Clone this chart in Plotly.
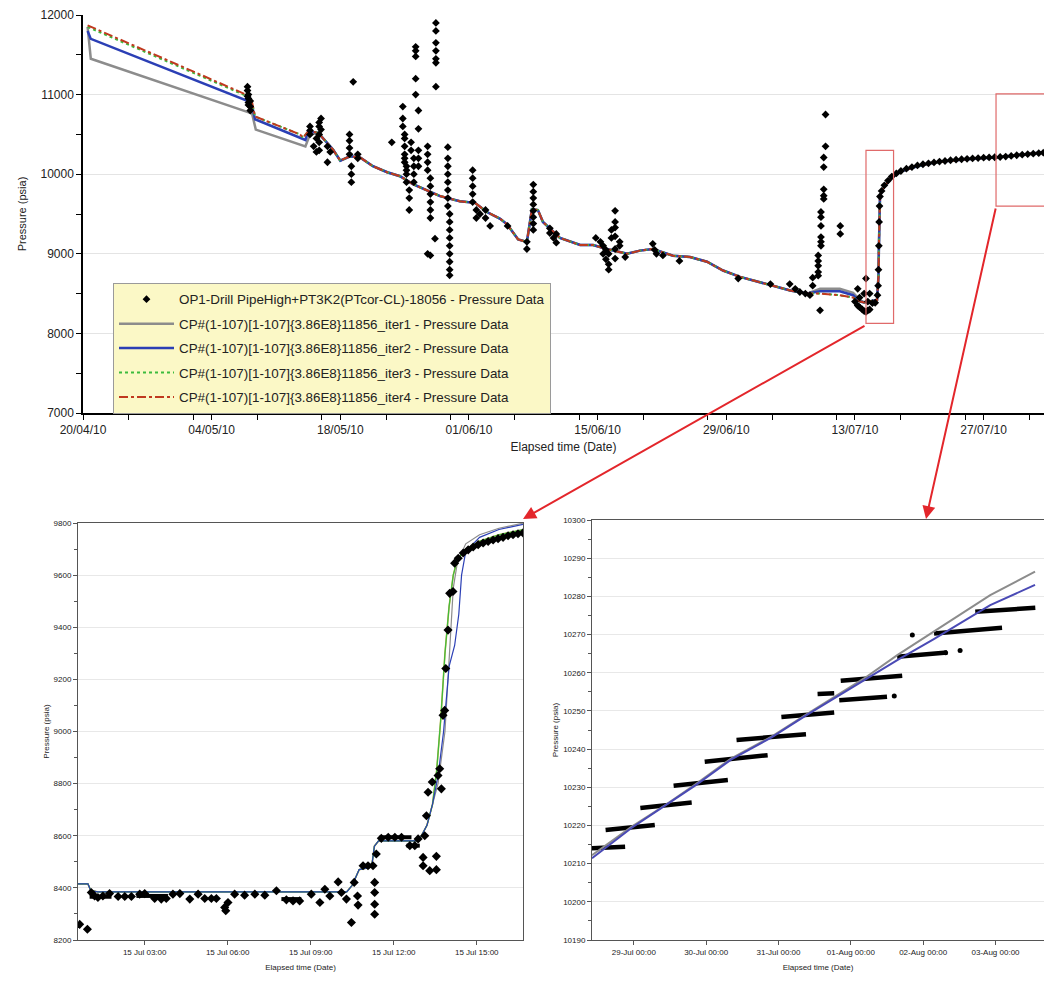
import pandas as pd
import plotly.graph_objects as go

# ---------------- DATA ----------------
# Top chart: elapsed days since 2010-04-20
base_days = [0.5, 17.95, 18.4, 18.72, 23.6,
             23.95, 24.5, 25.6, 27.2, 28.0,
             29.05, 30.15, 31.55, 33.1, 34.5,
             35.9, 38.85, 41.0, 42.65, 43.95,
             45.4, 46.15, 47.35, 48.3, 48.85,
             49.5, 50.05, 51.15, 51.9, 54.1,
             55.5, 57.0, 59.2, 60.6, 62.0,
             64.2, 66.05, 67.9, 69.65, 71.5,
             73.35, 75.1, 76.95, 78.8, 80.2,
             82.35, 83.8, 84.55, 85.0, 86.4,
             86.5, 86.56, 86.6, 86.64, 86.68,
             86.72, 86.9, 87.3, 88.0, 89.0,
             90.5, 92.2, 94.0, 95.8, 97.5,
             99.4, 100.34, 101.26, 102.17, 103.09,
             104.01, 104.6]
base_vals = [11850, 10975, 10900, 10725, 10500,
             10460, 10540, 10520, 10310, 10170,
             10225, 10210, 10100, 10025, 9975,
             9875, 9725, 9660, 9640, 9525,
             9440, 9370, 9180, 9150, 9560,
             9550, 9400, 9275, 9200, 9110,
             9110, 9060, 9000, 9040, 9060,
             8975, 8960, 8900, 8790, 8710,
             8650, 8600, 8540, 8500, 8500,
             8480, 8450, 8400, 8390, 8420,
             8580, 8720, 9050, 9450, 9620,
             9700, 9790, 9860, 9960, 10035,
             10090, 10137, 10165, 10187, 10200,
             10211, 10224, 10238, 10252, 10260,
             10269, 10274]

iter1_early_days = [0.5, 0.85, 17.95, 18.4, 18.8, 23.6, 24.2, 24.7]
iter1_early_vals = [11850, 11450, 10780, 10760, 10560, 10370, 10350, 10500]
iter1_late_days = [80.2, 82.35, 83.8, 84.55]
iter1_late_vals = [8560, 8560, 8510, 8420]

iter2_early_days = [0.5, 0.85, 17.95, 18.4, 18.72, 23.6, 24.2]
iter2_early_vals = [11800, 11700, 10920, 10860, 10690, 10460, 10430]
iter2_late_days = [80.2, 82.35, 83.8, 84.55]
iter2_late_vals = [8530, 8530, 8480, 8400]

iter4_early_days = [0.5, 17.95]
iter4_early_vals = [11870, 10990]

obs_cl_days = [17.9, 18.0, 18.2, 24.7, 25.1, 25.4, 25.7, 25.9, 26.6, 26.9,
               29.0, 29.2, 29.4, 29.9, 33.6, 34.8, 35.0, 35.2, 35.5, 35.7,
               36.0, 36.2, 36.5, 37.5, 37.8, 38.3, 38.4, 39.7, 39.9, 42.4,
               42.8, 43.2, 43.8, 44.3, 46.2, 48.3, 49.0, 50.8, 51.2, 51.5,
               55.8, 56.3, 56.6, 56.9, 57.2, 57.5, 57.9, 58.4, 59.0, 62.0,
               62.2, 62.4, 63.1, 64.9, 71.3, 74.8, 76.9, 77.5, 78.0, 78.6,
               79.1, 79.4, 80.0, 80.2, 80.3, 80.6, 80.8, 82.4, 84.0, 84.3,
               84.5, 84.8, 85.0, 85.2, 85.4, 85.6]
obs_cl_vals = [[11100, 11050, 10980], [11000, 10950, 10900, 10870], [10850, 10800, 10920],
               [10600, 10550, 10500], [10350], [10450, 10280], [10650, 10600, 10500, 10400, 10300],
               [10700, 10560], [10350, 10150], [10280],
               [10500, 10420, 10330, 10250], [10100, 10000, 9900], [11160], [10250, 10200],
               [10400], [10850, 10700, 10600], [10500, 10450, 10350, 10250, 10200, 10150],
               [10100, 10050, 10000, 9900], [9800, 9700, 9550], [10400, 10300],
               [10200, 10100, 10000, 9900], [11600, 11550, 11480, 11200, 11000],
               [10800, 10570, 10300, 10200, 10100], [10350, 10250, 10150, 10050, 9000],
               [9950, 9850, 9750, 9650, 9550, 9450, 8980], [9190],
               [11900, 11800, 11650, 11550, 11450, 11400, 11100],
               [10340, 10200, 10100, 10000, 9900, 9800, 9700, 9600],
               [9500, 9400, 9300, 9200, 9100, 9000, 8900, 8800, 8730],
               [10050, 9950, 9850, 9750, 9650],
               [9550, 9450], [9500], [9550, 9450], [9350], [9350], [9150, 9060],
               [9870, 9780, 9700, 9620, 9540, 9460, 9380, 9300], [9320, 9260], [9200], [9140, 9250],
               [9200], [9150], [9100, 9000], [9050, 8930], [8870, 8800, 9000], [9200, 9300],
               [9540, 9400, 9330, 9220, 9060, 8940], [9150, 9100], [8960], [9125],
               [9050], [9000], [8980], [8910], [8690], [8620], [8620], [8560], [8520], [8500],
               [8480], [8600, 8700], [8725, 8770, 8850, 8910, 8980], [8290],
               [9100, 9150, 9210, 9350, 9460, 9525], [9690, 9730, 9810, 10090, 10210],
               [10350, 10750], [9350, 9250], [8400], [8350, 8560],
               [8330, 8450], [8300], [8280, 8500], [8270, 8690], [8290, 8400], [8300, 8500]]

obs_tail_days = [85.9, 86.2, 86.45, 86.52, 86.56, 86.6, 86.63, 86.67, 86.72, 86.9,
                 87.2, 87.6, 88.0, 88.5, 89.0, 89.6, 90.2, 90.8, 91.4, 92.0,
                 92.6, 93.2, 93.8, 94.4, 95.0, 95.6, 96.2, 96.8, 97.4, 98.0,
                 98.6, 99.2, 99.8, 100.4, 101.0, 101.6, 102.2, 102.8, 103.4, 104.0,
                 104.5]
obs_tail_vals = [8380, 8385, 8480, 8600, 8800, 9100, 9400, 9600, 9720, 9790,
                 9860, 9920, 9970, 10010, 10040, 10070, 10090, 10110, 10125, 10137,
                 10148, 10158, 10166, 10175, 10182, 10188, 10193, 10198, 10203, 10207,
                 10211, 10213, 10216, 10222, 10230, 10238, 10245, 10252, 10258, 10264,
                 10270]

# Bottom-left: hours since 2010-07-15 00:00
bl_base_h = [0.55, 0.95, 1.05, 1.3, 10.3, 10.5, 10.75, 11.2, 11.3, 11.45, 12.9, 13.0,
             13.2, 13.4, 13.55, 13.7, 13.85, 14.0, 14.15, 14.3, 14.6, 15.1, 15.8, 16.7]
bl_base_v = [8415, 8415, 8390, 8385, 8385, 8410, 8470, 8480, 8560, 8580, 8580, 8600,
             8640, 8720, 8850, 9050, 9300, 9480, 9600, 9660, 9700, 9730, 9755, 9775]
bl_iter1_late_h = [13.6, 13.85, 14.0, 14.15, 14.3, 14.6, 15.1, 15.8, 16.7]
bl_iter1_late_v = [8800, 9000, 9300, 9550, 9650, 9720, 9755, 9780, 9800]
bl_iter2_late_h = [13.6, 13.8, 14.0, 14.2, 14.35, 14.45, 14.6, 15.1, 15.8, 16.7]
bl_iter2_late_v = [8830, 9000, 9250, 9330, 9450, 9600, 9690, 9745, 9775, 9795]

bl_obs_h = [0.65, 0.93, 1.07, 1.19, 1.31, 1.49, 1.73, 2.04, 2.28, 2.52,
            2.82, 3.0, 3.36, 3.6, 3.78, 4.02, 4.27, 4.63, 4.93, 5.17,
            5.41, 5.59, 5.89, 5.93, 6.01, 6.25, 6.61, 6.98, 7.34, 7.76,
            8.12, 8.36, 8.6, 9.02, 9.33, 9.51, 9.69, 9.99, 10.11, 10.29,
            10.47, 10.57, 10.69, 10.71, 10.89, 11.07, 11.25, 11.31, 11.31, 11.31,
            11.31, 11.37, 11.55, 11.8, 12.04, 12.28, 12.58, 12.76, 12.88, 13.06,
            13.06, 13.12, 13.18, 13.24, 13.3, 13.39, 13.54, 13.54, 13.6, 13.66,
            13.72, 13.78, 13.84, 13.88, 13.96, 14.02, 14.14, 14.2, 14.33, 14.51,
            14.69, 14.87, 15.05, 15.23, 15.41, 15.59, 15.77, 15.95, 16.13, 16.31,
            16.49, 16.67]
bl_obs_v = [8260, 8241, 8382, 8369, 8363, 8369, 8378, 8367, 8367, 8367,
            8376, 8378, 8359, 8357, 8359, 8376, 8378, 8357, 8376, 8359,
            8359, 8359, 8325, 8312, 8344, 8376, 8372, 8376, 8372, 8389,
            8354, 8350, 8350, 8376, 8344, 8395, 8369, 8423, 8382, 8357,
            8267, 8421, 8369, 8334, 8485, 8485, 8485, 8421, 8382, 8337,
            8299, 8530, 8590, 8594, 8594, 8594, 8562, 8562, 8588, 8517,
            8485, 8600, 8677, 8767, 8466, 8806, 8521, 8470, 8831, 8857,
            8780, 9062, 9081, 9242, 9389, 9530, 9537, 9646, 9665, 9685,
            9697, 9708, 9717, 9723, 9729, 9735, 9740, 9745, 9751, 9755,
            9759, 9762]
bl_seg_h0 = [1.01, 2.7, 7.94, 10.83, 11.49, 12.46]
bl_seg_h1 = [1.8, 3.84, 8.66, 11.25, 12.64, 12.94]
bl_seg_v = [8366, 8369, 8357, 8485, 8594, 8562]

# Bottom-right: days since 2010-07-29 00:00
br_days = [-0.578, -0.028, 0.431, 0.867, 1.349, 1.899, 2.404, 3.183, 3.642, 4.147, 4.927, 5.546]
br_iter1 = [10212.2, 10219.7, 10225.3, 10231.0, 10237.6, 10243.2, 10249.3, 10258.5,
            10264.6, 10270.7, 10280.3, 10286.5]
br_iter2 = [10211.4, 10219.4, 10225.2, 10230.7, 10237.3, 10243.0, 10249.1, 10258.1,
            10263.3, 10268.8, 10277.7, 10283.0]
br_seg_d0 = [-0.58, -0.39, 0.09, 0.55, 0.98, 1.42, 2.04, 2.54, 2.84, 2.86, 3.64, 4.15, 4.72]
br_seg_d1 = [-0.12, 0.29, 0.80, 1.30, 1.85, 2.38, 2.77, 2.77, 3.50, 3.71, 4.33, 5.09, 5.55]
br_seg_v0 = [10214.0, 10218.8, 10224.6, 10230.4, 10236.7, 10242.4, 10248.4, 10254.4,
             10252.8, 10257.9, 10264.2, 10270.3, 10276.0]
br_seg_v1 = [10214.4, 10220.1, 10226.0, 10231.9, 10238.4, 10243.9, 10249.6, 10254.6,
             10253.7, 10259.2, 10265.3, 10271.8, 10277.0]
br_pt_d = [3.6, 3.85, 4.31, 4.51]
br_pt_v = [10253.9, 10269.9, 10265.2, 10265.8]

legend_names = ["OP1-Drill PipeHigh+PT3K2(PTcor-CL)-18056 - Pressure Data",
                "CP#(1-107)[1-107]{3.86E8}11856_iter1 - Pressure Data",
                "CP#(1-107)[1-107]{3.86E8}11856_iter2 - Pressure Data",
                "CP#(1-107)[1-107]{3.86E8}11856_iter3 - Pressure Data",
                "CP#(1-107)[1-107]{3.86E8}11856_iter4 - Pressure Data"]

assert len(base_days) == len(base_vals)
assert len(obs_cl_days) == len(obs_cl_vals)
assert len(obs_tail_days) == len(obs_tail_vals)
assert len(bl_obs_h) == len(bl_obs_v)
assert len(br_days) == len(br_iter1) == len(br_iter2)

# ---------------- helpers ----------------
T0 = pd.Timestamp("2010-04-20")
BL0 = pd.Timestamp("2010-07-15")
BR0 = pd.Timestamp("2010-07-29")


def tx(days, t0=T0):
    return [t0 + pd.Timedelta(days=d) for d in days]


def hx(hours):
    return [BL0 + pd.Timedelta(hours=h) for h in hours]


def splice(early_d, early_v, start, late_d, late_v):
    d, v = list(early_d), list(early_v)
    for dd, vv in zip(base_days, base_vals):
        if start <= dd < 80:
            d.append(dd); v.append(vv)
    d += list(late_d); v += list(late_v)
    for dd, vv in zip(base_days, base_vals):
        if dd >= 85:
            d.append(dd); v.append(vv)
    return d, v


i1_d, i1_v = splice(iter1_early_days, iter1_early_vals, 25.6, iter1_late_days, iter1_late_vals)
i2_d, i2_v = splice(iter2_early_days, iter2_early_vals, 24.5, iter2_late_days, iter2_late_vals)
i4_d = iter4_early_days + [d for d in base_days if d >= 18.4]
i4_v = iter4_early_vals + [v for d, v in zip(base_days, base_vals) if d >= 18.4]

obs_d, obs_v = [], []
for d, vals in zip(obs_cl_days, obs_cl_vals):
    for v in vals:
        obs_d.append(d); obs_v.append(v)
obs_d += obs_tail_days
obs_v += obs_tail_vals

bl_i1_h = [h for h in bl_base_h if h <= 13.4] + bl_iter1_late_h
bl_i1_v = [v for h, v in zip(bl_base_h, bl_base_v) if h <= 13.4] + bl_iter1_late_v
bl_i2_h = [h for h in bl_base_h if h <= 13.4] + bl_iter2_late_h
bl_i2_v = [v for h, v in zip(bl_base_h, bl_base_v) if h <= 13.4] + bl_iter2_late_v

# ---------------- styles ----------------
FONT = "Liberation Sans Narrow, Arial Narrow, Liberation Sans, Arial, sans-serif"
C_GRAY = "#8c8c8c"
C_BLUE = "#2b3fb5"
C_GREEN = "#3dbb3d"
C_RED = "#c0391f"
C_BR_BLUE = "#4a4ab5"

fig = go.Figure()

# ---- top chart ----
fig.add_trace(go.Scatter(x=tx(i1_d), y=i1_v, mode="lines", name=legend_names[1],
                         line=dict(color=C_GRAY, width=2.5), legendrank=2, legendgroup="g1",
                         xaxis="x", yaxis="y"))
fig.add_trace(go.Scatter(x=tx(i2_d), y=i2_v, mode="lines", name=legend_names[2],
                         line=dict(color=C_BLUE, width=2.5), legendrank=3, legendgroup="g2",
                         xaxis="x", yaxis="y"))
fig.add_trace(go.Scatter(x=tx(base_days), y=base_vals, mode="lines", name=legend_names[3],
                         line=dict(color=C_GREEN, width=2, dash="dot"), legendrank=4, legendgroup="g3",
                         xaxis="x", yaxis="y"))
fig.add_trace(go.Scatter(x=tx(i4_d), y=i4_v, mode="lines", name=legend_names[4],
                         line=dict(color=C_RED, width=2, dash="dashdot"), legendrank=5, legendgroup="g4",
                         xaxis="x", yaxis="y"))
fig.add_trace(go.Scatter(x=tx(obs_d), y=obs_v, mode="markers", name=legend_names[0],
                         marker=dict(symbol="diamond", size=6, color="black"),
                         legendrank=1, legendgroup="g0", xaxis="x", yaxis="y"))

# ---- bottom-left ----
fig.add_trace(go.Scatter(x=hx(bl_i1_h), y=bl_i1_v, mode="lines", showlegend=False,
                         line=dict(color=C_GRAY, width=1.2), xaxis="x2", yaxis="y2"))
fig.add_trace(go.Scatter(x=hx(bl_base_h), y=bl_base_v, mode="lines", showlegend=False,
                         line=dict(color="#c9b04a", width=1.6), xaxis="x2", yaxis="y2"))
fig.add_trace(go.Scatter(x=hx(bl_base_h), y=bl_base_v, mode="lines", showlegend=False,
                         line=dict(color=C_GREEN, width=1.2), xaxis="x2", yaxis="y2"))
fig.add_trace(go.Scatter(x=hx(bl_i2_h), y=bl_i2_v, mode="lines", showlegend=False,
                         line=dict(color=C_BLUE, width=1.2), xaxis="x2", yaxis="y2"))
seg_x, seg_y = [], []
for h0, h1, v in zip(bl_seg_h0, bl_seg_h1, bl_seg_v):
    seg_x += [BL0 + pd.Timedelta(hours=h0), BL0 + pd.Timedelta(hours=h1), None]
    seg_y += [v, v, None]
fig.add_trace(go.Scatter(x=seg_x, y=seg_y, mode="lines", showlegend=False,
                         line=dict(color="black", width=4), xaxis="x2", yaxis="y2"))
fig.add_trace(go.Scatter(x=hx(bl_obs_h), y=bl_obs_v, mode="markers", showlegend=False,
                         marker=dict(symbol="diamond", size=7, color="black"),
                         xaxis="x2", yaxis="y2"))

# ---- bottom-right ----
sx, sy = [], []
for d0, d1, v0, v1 in zip(br_seg_d0, br_seg_d1, br_seg_v0, br_seg_v1):
    sx += [BR0 + pd.Timedelta(days=d0), BR0 + pd.Timedelta(days=d1), None]
    sy += [v0, v1, None]
fig.add_trace(go.Scatter(x=sx, y=sy, mode="lines", showlegend=False,
                         line=dict(color="black", width=4.5), xaxis="x3", yaxis="y3"))
fig.add_trace(go.Scatter(x=tx(br_pt_d, BR0), y=br_pt_v, mode="markers", showlegend=False,
                         marker=dict(symbol="circle", size=5, color="black"),
                         xaxis="x3", yaxis="y3"))
fig.add_trace(go.Scatter(x=tx(br_days, BR0), y=br_iter1, mode="lines", showlegend=False,
                         line=dict(color=C_GRAY, width=2), xaxis="x3", yaxis="y3"))
fig.add_trace(go.Scatter(x=tx(br_days, BR0), y=br_iter2, mode="lines", showlegend=False,
                         line=dict(color=C_BR_BLUE, width=2), xaxis="x3", yaxis="y3"))

W, H = 1044, 987
DAY = 86400000


def px_x(p):
    return p / W


def px_y(p):
    return 1 - p / H


common_ax = dict(showline=True, linecolor="black", automargin=False, zeroline=False,
                 ticks="outside", tickcolor="black")

fig.update_layout(
    width=W, height=H, margin=dict(l=0, r=0, t=0, b=0),
    paper_bgcolor="white", plot_bgcolor="white",
    font=dict(family=FONT, color="#222"),
    xaxis=dict(common_ax, domain=[px_x(83), 1.0], anchor="y", type="date",
               range=[T0, T0 + pd.Timedelta(days=104.57)],
               tick0=T0, dtick=14 * DAY, tickformat="%d/%m/%y", ticklen=5, linewidth=1.5,
               tickfont=dict(size=12), showgrid=False,
               minor=dict(dtick=7 * DAY, ticks="outside", ticklen=5, tickcolor="black", showgrid=False),
               title=dict(text="Elapsed time (Date)", font=dict(size=12), standoff=6)),
    yaxis=dict(common_ax, domain=[px_y(413), px_y(15)], anchor="x", range=[7000, 12000],
               dtick=1000, tickformat="d", ticklen=5, linewidth=1.5, tickfont=dict(size=12),
               showgrid=True, gridcolor="#e4e4e4", gridwidth=1,
               minor=dict(dtick=500, ticks="outside", ticklen=5, tickcolor="black", showgrid=False),
               title=dict(text="Pressure (psia)", font=dict(size=11), standoff=12)),
    xaxis2=dict(common_ax, domain=[px_x(78), px_x(523)], anchor="y2", type="date",
                range=[BL0 + pd.Timedelta(hours=0.59), BL0 + pd.Timedelta(hours=16.67)],
                tick0=BL0, dtick=3 * 3600000, tickformat="%d %b %H:%M", ticklen=4,
                linecolor="#555", tickcolor="#555", mirror=True, tickfont=dict(size=8),
                showgrid=False,
                title=dict(text="Elapsed time (Date)", font=dict(size=8), standoff=8)),
    yaxis2=dict(common_ax, domain=[px_y(940), px_y(523)], anchor="x2", range=[8200, 9800],
                dtick=200, tickformat="d", ticklen=4, linecolor="#555", tickcolor="#555", mirror=True,
                tickfont=dict(size=8), showgrid=True, gridcolor="#e8e8e8",
                minor=dict(dtick=100, ticks="outside", ticklen=3, tickcolor="#555", showgrid=False),
                title=dict(text="Pressure (psia)", font=dict(size=8), standoff=2)),
    xaxis3=dict(common_ax, domain=[px_x(592), 1.0], anchor="y3", type="date",
                range=[BR0 - pd.Timedelta(days=0.578), BR0 + pd.Timedelta(days=5.67)],
                tick0=BR0, dtick=DAY, tickformat="%d-%b %H:%M", ticklen=4,
                linecolor="#555", tickcolor="#555", mirror=True, tickfont=dict(size=8),
                showgrid=False,
                title=dict(text="Elapsed time (Date)", font=dict(size=8), standoff=8)),
    yaxis3=dict(common_ax, domain=[px_y(940), px_y(520)], anchor="x3", range=[10190, 10300],
                dtick=10, tickformat="d", ticklen=4, linecolor="#555", tickcolor="#555", mirror=True,
                tickfont=dict(size=8), showgrid=True, gridcolor="#e8e8e8",
                minor=dict(dtick=5, ticks="outside", ticklen=3, tickcolor="#555", showgrid=False),
                title=dict(text="Pressure (psia)", font=dict(size=8), standoff=3)),
    legend=dict(x=px_x(113), y=px_y(283), xanchor="left", yanchor="top",
                bgcolor="#fbf8c6", bordercolor="#9a9a9a", borderwidth=1,
                font=dict(size=13.4, family=FONT, color="#222"), itemwidth=55,
                tracegroupgap=4, traceorder="grouped"),
)

# red zoom boxes on top chart
fig.add_shape(type="rect", xref="x", yref="y",
              x0=T0 + pd.Timedelta(days=85.2), x1=T0 + pd.Timedelta(days=88.2),
              y0=8125, y1=10300, line=dict(color="#e06a6a", width=1.2))
fig.add_shape(type="rect", xref="x", yref="y",
              x0=T0 + pd.Timedelta(days=99.35), x1=T0 + pd.Timedelta(days=108),
              y0=9600, y1=11010, line=dict(color="#e06a6a", width=1.2))

# arrows to the detail plots
fig.add_annotation(x=px_x(523), y=px_y(519), xref="paper", yref="paper", text="",
                   showarrow=True, ax=343, ay=-194, arrowhead=2, arrowsize=1.3,
                   arrowwidth=2, arrowcolor="#e3262b")
fig.add_annotation(x=px_x(926), y=px_y(519), xref="paper", yref="paper", text="",
                   showarrow=True, ax=70, ay=-312, arrowhead=2, arrowsize=1.3,
                   arrowwidth=2, arrowcolor="#e3262b")

fig.write_html("out.html")
